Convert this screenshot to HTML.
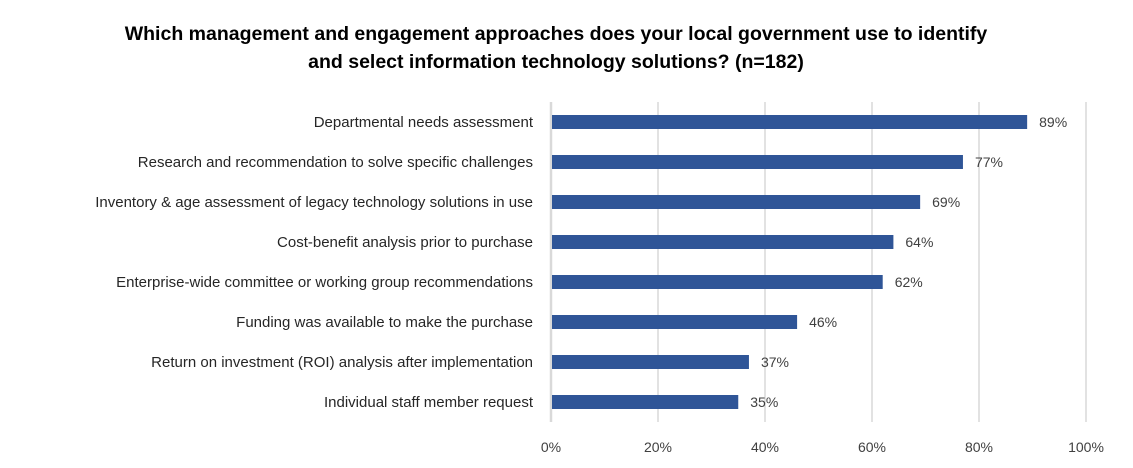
<!DOCTYPE html>
<html><head><meta charset="utf-8"><style>
body{margin:0;background:#fff;font-family:"Liberation Sans",Calibri,sans-serif}
svg{display:block}
</style></head><body>
<svg width="1133" height="468">
<text x="556" y="40" text-anchor="middle" font-size="19.5" font-weight="bold" fill="#000">Which management and engagement approaches does your local government use to identify</text>
<text x="556" y="68" text-anchor="middle" font-size="19.5" font-weight="bold" fill="#000">and select information technology solutions? (n=182)</text>
<g id="grid"></g><g id="bars"></g><g id="labels"></g><g id="ticks"></g>
</svg>
<script>
const categories=["Departmental needs assessment","Research and recommendation to solve specific challenges","Inventory & age assessment of legacy technology solutions in use","Cost-benefit analysis prior to purchase","Enterprise-wide committee or working group recommendations","Funding was available to make the purchase","Return on investment (ROI) analysis after implementation","Individual staff member request"];
const values=[89,77,69,64,62,46,37,35];
const tickValues=[0,20,40,60,80,100];
const tickLabels=["0%","20%","40%","60%","80%","100%"];
const NS="http://www.w3.org/2000/svg";
const x0=551,x1=1086,plotTop=102,plotBottom=422;
const xs=v=>x0+(x1-x0)*v/100;
const band=(plotBottom-plotTop)/categories.length;
const yc=i=>plotTop+band*(i+0.5);
function mk(t,a,p){const e=document.createElementNS(NS,t);for(const k in a)e.setAttribute(k,a[k]);p.appendChild(e);return e;}
const G=document.getElementById('grid'),B=document.getElementById('bars'),L=document.getElementById('labels'),T=document.getElementById('ticks');
tickValues.forEach((v,i)=>{
 const l=mk('line',{x1:xs(v),x2:xs(v),y1:plotTop,y2:plotBottom,stroke:'#d9d9d9','stroke-width':i==0?2.5:1.5},G);
 
 
 const t=mk('text',{x:xs(v),y:452,'text-anchor':'middle','font-size':14,fill:'#404040'},T);
 t.textContent=tickLabels[i];
 
 
});
categories.forEach((c,i)=>{
 const y=yc(i);
 const r=mk('rect',{x:xs(0)+1,y:y-7,width:xs(values[i])-xs(0)-1,height:14,fill:'#2f5597'},B);
 
 
 const v=mk('text',{x:xs(values[i])+12,y:y+5,'font-size':14,fill:'#404040'},L);
 v.textContent=values[i]+'%';
 
 
 const t=mk('text',{x:533,y:y+5,'text-anchor':'end','font-size':15,fill:'#262626'},L);
 t.textContent=c;
 
 
});
</script>
</body></html>
